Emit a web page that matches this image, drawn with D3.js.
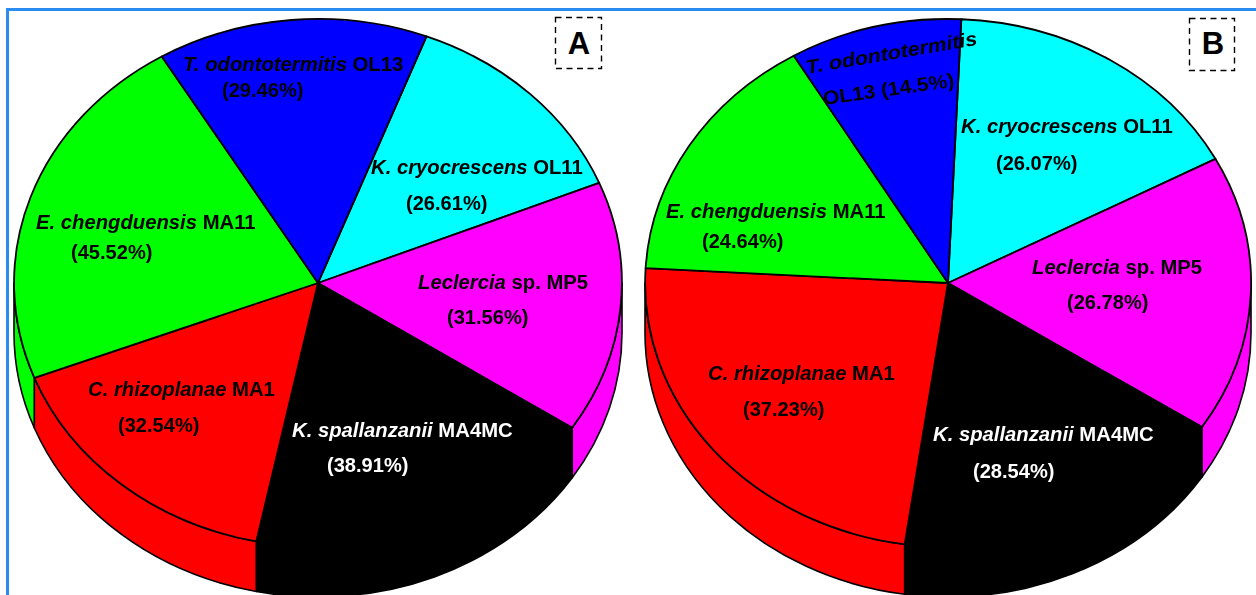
<!DOCTYPE html>
<html><head><meta charset="utf-8">
<script src="https://cdn.jsdelivr.net/npm/d3@7"></script>
<style>
html,body{margin:0;padding:0;background:#fff;overflow:hidden}
svg{display:block}
text{font-family:"Liberation Sans",Arial,sans-serif;font-weight:bold}
</style></head><body>
<svg id="chart" width="1256" height="595"></svg>
<script>
// data, clockwise from the cyan slice
const strains = ["K. cryocrescens","Leclercia","K. spallanzanii","C. rhizoplanae","E. chengduensis","T. odontotermitis"];
const suffixes = ["OL11","sp. MP5","MA4MC","MA1","MA11","OL13"];
const colors = ["#00ffff","#ff00ff","#000000","#ff0000","#00ff00","#0000ff"];
const valuesA = [26.61,31.56,38.91,32.54,45.52,29.46];
const valuesB = [26.07,26.78,28.54,37.23,24.64,14.5];
const percentA = ["(26.61%)","(31.56%)","(38.91%)","(32.54%)","(45.52%)","(29.46%)"];
const percentB = ["(26.07%)","(26.78%)","(28.54%)","(37.23%)","(24.64%)","(14.5%)"];

// layout
const panelA = {letter:"A",cx:318,cy:283,rx:304,ry:264,start:20.9,box:[555,17,46,51],letterX:579,letterY:54,
  values:valuesA,percent:percentA,
  name:[[371,174],[418,289],[292,437],[88,396],[36,229],[183,71]],
  pct:[[406,210],[447,324],[327,472],[118,432],[71,259],[222,97]]};
const panelB = {letter:"B",cx:948,cy:283,rx:303,ry:264,start:2.5,box:[1189,18,45,52],letterX:1213,letterY:54,
  values:valuesB,percent:percentB,
  name:[[961,133],[1032,274],[933,441],[708,380],[666,218],[807,74]],
  pct:[[996,170],[1067,309],[973,478],[743,416],[702,248],[824,105]]};
const depth = 50, fontSize = 19.5, stretchName = 1.04, stretchPct = 1.03, stretchRotated = 1.1, stretchRotatedPct = 1.08;

const svg = d3.select("#chart");
const page = svg.append("g").style("filter","blur(0.45px)");

page.append("path").attr("d","M7.5,595V9.5H1256").attr("fill","none").attr("stroke","#2b8cf0").attr("stroke-width",3);

function drawPanel(p){
  const start = p.start*Math.PI/180;
  const arcs = d3.pie().sort(null).startAngle(start).endAngle(start+2*Math.PI)(p.values);
  const unit = d3.arc().innerRadius(0).outerRadius(1);
  const g = page.append("g");
  const xf = `translate(${p.cx},${p.cy}) scale(${p.rx},${p.ry})`;
  const off = depth/p.ry;
  const lo = Math.PI/2, hi = 3*Math.PI/2;
  // extruded wall: only the front half of the rim
  arcs.forEach((d,i)=>{
    const a0 = Math.max(d.startAngle,lo), a1 = Math.min(d.endAngle,hi);
    if(a1<=a0) return;
    const q = d3.path(), t = -Math.PI/2;
    q.arc(0,0,1,a0+t,a1+t,false);
    q.arc(0,off,1,a1+t,a0+t,true);
    q.closePath();
    g.append("path").attr("d",q.toString()).attr("transform",xf)
      .attr("fill",colors[i]).attr("stroke","#000").attr("stroke-width",1.6)
      .attr("vector-effect","non-scaling-stroke").attr("stroke-linejoin","round");
  });
  // top face
  g.selectAll("path.face").data(arcs).join("path").attr("class","face")
    .attr("d",unit).attr("transform",xf)
    .attr("fill",(d,i)=>colors[i]).attr("stroke","#000").attr("stroke-width",1.8)
    .attr("vector-effect","non-scaling-stroke").attr("stroke-linejoin","round");

  const label = (x,y,rot,fill,sx)=>g.append("text").attr("fill",fill)
    .attr("font-size",fontSize)
    .attr("transform",`translate(${x},${y}) rotate(${rot}) scale(${sx},1)`);
  arcs.forEach((d,i)=>{
    const ink = i===2 ? "#fff" : "#000";
    const rotated = p.letter==="B" && i===5;
    const nm = label(p.name[i][0],p.name[i][1],rotated?-9.7:0,ink,rotated?stretchRotated:stretchName);
    nm.append("tspan").attr("font-style","italic").text(strains[i]);
    if(!rotated) nm.append("tspan").text(" "+suffixes[i]);
    const pc = label(p.pct[i][0],p.pct[i][1],rotated?-8:0,ink,rotated?stretchRotatedPct:stretchPct);
    pc.text((rotated?suffixes[i]+" ":"")+p.percent[i]);
  });
  // panel letter
  g.append("rect").attr("x",p.box[0]+.5).attr("y",p.box[1]+.5).attr("width",p.box[2]).attr("height",p.box[3])
    .attr("fill","#fff").attr("stroke","#000").attr("stroke-width",1.4).attr("stroke-dasharray","6 4.5");
  g.append("text").attr("x",p.letterX).attr("y",p.letterY).attr("text-anchor","middle")
    .attr("font-size",31).attr("fill","#000").text(p.letter);
}
drawPanel(panelA);
drawPanel(panelB);
</script>
</body></html>
